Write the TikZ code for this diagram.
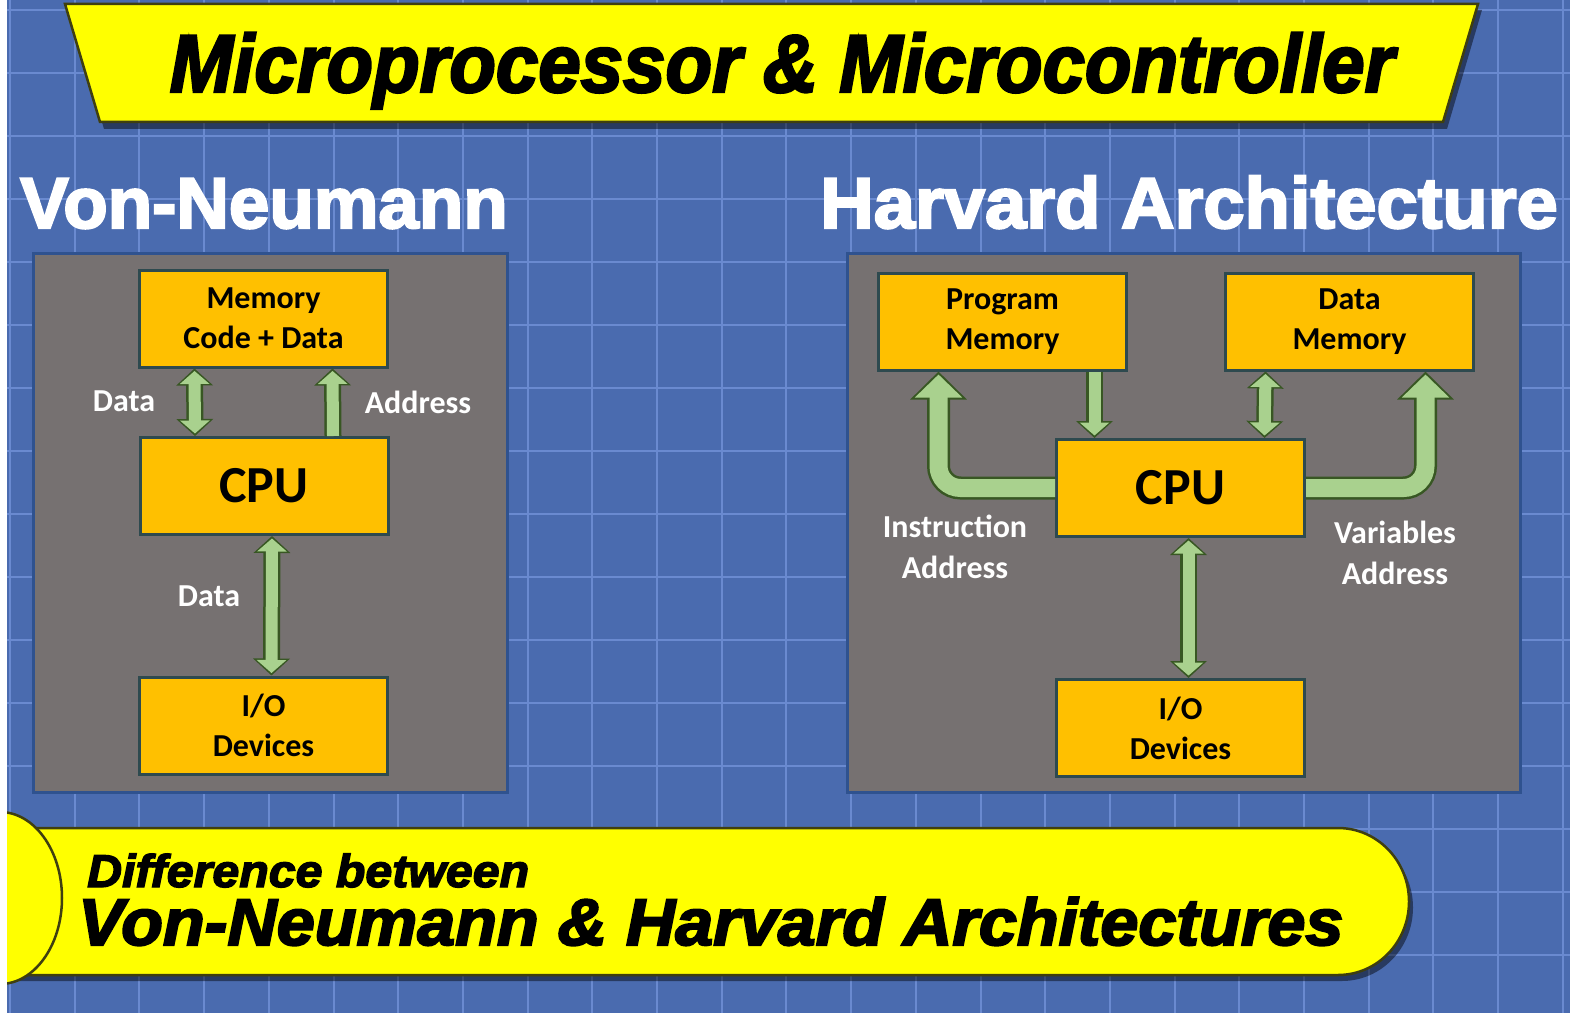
\documentclass[tikz,border=0pt]{standalone}
\usepackage{fontspec}
\usetikzlibrary{arrows.meta}
\setmainfont{Carlito}
\newfontfamily\heavyfont{Liberation Sans}[BoldFeatures={FakeBold=3},BoldItalicFeatures={FakeBold=3}]

\definecolor{bgblue}{HTML}{4A6BAF}
\definecolor{gridblue}{HTML}{6A8AD0}
\definecolor{panelgrey}{HTML}{767171}
\definecolor{panelline}{HTML}{2F528F}
\definecolor{boxorange}{HTML}{FFC000}
\definecolor{boxline}{HTML}{2E4A4F}
\definecolor{glight}{HTML}{A9D18E}
\definecolor{gdark}{HTML}{385723}
\definecolor{banyellow}{HTML}{FFFF00}
\definecolor{banline}{HTML}{3F3F10}

\tikzset{
  gridline/.style={draw=gridblue,line width=2pt},
  panel/.style={fill=panelgrey,draw=panelline,line width=3pt},
  banner/.style={fill=banyellow,draw=banline,line width=2.5pt},
  box/.style={draw=boxline,line width=3pt,fill=boxorange,minimum width=248pt,minimum height=97pt,
    inner sep=0pt,align=center,font=\bfseries\fontsize{32}{40}\selectfont},
  cpubox/.style={box,font=\bfseries\fontsize{52}{60}\selectfont},
  lbl/.style={text=white,align=center,font=\bfseries\fontsize{32}{41}\selectfont},
  heading/.style={anchor=base west,inner sep=0pt,text=white,font=\heavyfont\bfseries\fontsize{72}{72}\selectfont},
  bus/.style={draw=glight,line width=12pt,-{Triangle[width=29pt,length=13pt]},shorten >=2.5pt,
    preaction={draw=gdark,line width=17pt,-{Triangle[width=36pt,length=17pt]},shorten >=0pt}},
  busboth/.style={draw=glight,line width=12pt,{Triangle[width=29pt,length=13pt]}-{Triangle[width=29pt,length=13pt]},
    shorten >=2.5pt,shorten <=2.5pt,
    preaction={draw=gdark,line width=17pt,{Triangle[width=36pt,length=17pt]}-{Triangle[width=36pt,length=17pt]},
    shorten >=0pt,shorten <=0pt}},
  bigbus/.style={draw=glight,line width=18pt,-{Triangle[width=46pt,length=23pt]},shorten >=3pt,
    preaction={draw=gdark,line width=23pt,-{Triangle[width=55pt,length=28pt]},shorten >=0pt}},
}

\begin{document}
\begin{tikzpicture}[x=1pt,y=-1pt]
\useasboundingbox (0,0) rectangle (1570,1019);
\fill[bgblue] (0,0) rectangle (1570,1019);
\foreach \i in {0,...,24}
  \draw[gridline] ({10+64.7*\i},0) -- ({10+64.7*\i},1019);
\foreach \j in {0,...,16}
  \draw[gridline] (0,{10+63*\j}) -- (1570,{10+63*\j});

% top banner
\fill[black,opacity=0.45] (69,10) -- (1482,10) -- (1447,129) -- (104,129) -- cycle;
\filldraw[banner] (65,4) -- (1478,4) -- (1443,122) -- (100,122) -- cycle;
\node[anchor=base,inner sep=0pt,font=\heavyfont\bfseries\itshape\fontsize{82}{82}\selectfont] (ttop) at (782,92)
  {\scalebox{0.93}[1]{Microprocessor \& Microcontroller}};

% titles
\node[heading] (tvn) at (20,228) {\scalebox{1.01}[1]{Von-Neumann}};
\node[heading] (thv) at (820,228) {\scalebox{1.03}[1]{Harvard Architecture}};

% panels
\draw[panel] (33,253) rectangle (507,792);
\draw[panel] (847,253) rectangle (1520,792);

% Von-Neumann
\node[box] (vmem) at (263.5,318.5) {Memory\\Code + Data};
\node[cpubox] (vcpu) at (264,486) {CPU};
\node[box] (vio) at (263.5,725.5) {I/O\\Devices};
\draw[busboth] ([xshift=-69pt]vmem.south) -- ([xshift=-69pt]vcpu.north);
\draw[bus] ([xshift=69pt]vcpu.north) -- ([xshift=69pt]vmem.south);
\draw[busboth] ([xshift=8pt]vcpu.south) -- ([xshift=8pt]vio.north);
\node[lbl] (ldata) at (124,401) {Data};
\node[lbl] (laddr) at (418,402) {Address};
\node[lbl] (liodata) at (209,596) {Data};

% Harvard
\node[box] (pm) at (1002.5,321.5) {Program\\Memory};
\node[box] (dm) at (1349.5,321.5) {Data\\Memory};
\node[cpubox] (hcpu) at (1180.5,488) {CPU};
\node[box] (hio) at (1180.5,728) {I/O\\Devices};
\draw[bus] ([xshift=92pt]pm.south) -- ([xshift=92pt]pm.south |- hcpu.north);
\draw[busboth] ([xshift=-84pt]dm.south) -- ([xshift=84pt]hcpu.north);
\draw[busboth] ([xshift=8pt]hcpu.south) -- ([xshift=8pt]hio.north);
\draw[bigbus,rounded corners=22pt] (hcpu.west) -| ([xshift=-64pt]pm.south);
\draw[bigbus,rounded corners=22pt] (hcpu.east) -| ([xshift=76pt]dm.south);
\node[lbl] (linstr) at (955,547) {Instruction\\Address};
\node[lbl] (lvar) at (1395,553) {Variables\\Address};

% bottom banner
\fill[black,opacity=0.45] (10,834) -- (1342,834) arc[start angle=-90,end angle=90,x radius=71,y radius=73.5] -- (10,981) -- cycle;
\filldraw[banner] (10,828) -- (1338,828) arc[start angle=-90,end angle=90,x radius=71,y radius=73.5] -- (10,975) -- cycle;
\filldraw[banner] (0,898) ellipse[x radius=62,y radius=86];
\node[anchor=base west,inner sep=0pt,font=\heavyfont\bfseries\itshape\fontsize{46}{46}\selectfont] (tdiff) at (87,887)
  {\scalebox{1.05}[1]{Difference between}};
\node[anchor=base west,inner sep=0pt,font=\heavyfont\bfseries\itshape\fontsize{66}{66}\selectfont] (tarch) at (78,945)
  {\scalebox{1.035}[1]{Von-Neumann \& Harvard Architectures}};

% edges
\fill[white] (0,0) rectangle (7,1019);
\fill[white] (0,1013) rectangle (1570,1019);
\end{tikzpicture}
\end{document}
